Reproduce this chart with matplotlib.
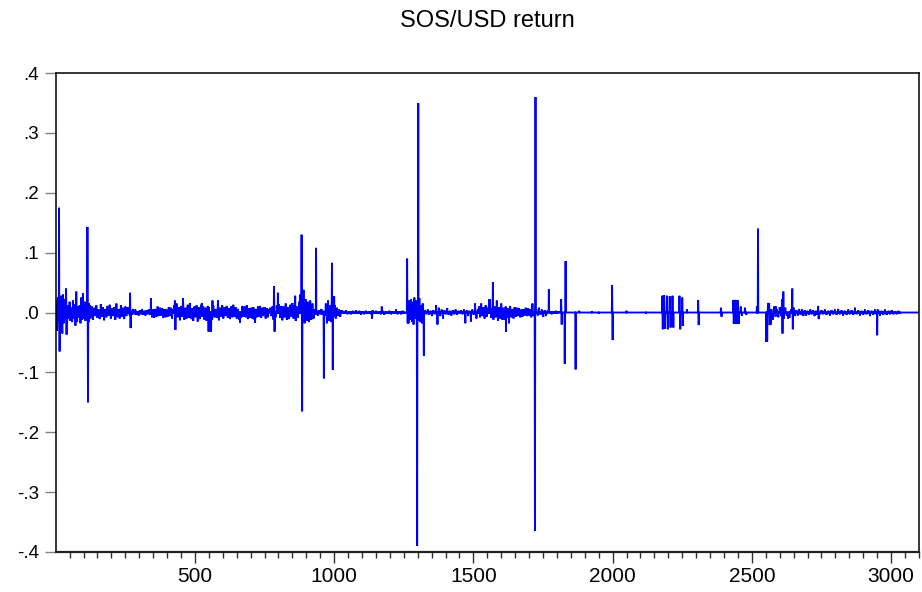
import numpy as np
import matplotlib
matplotlib.use("Agg")
import matplotlib.pyplot as plt

# ---------------- data ----------------
n_obs = 3100
title = "SOS/USD return"
x_ticks = [500, 1000, 1500, 2000, 2500, 3000]
y_ticks = [-0.4, -0.3, -0.2, -0.1, 0.0, 0.1, 0.2, 0.3, 0.4]
y_tick_labels = ['-.4', '-.3', '-.2', '-.1', '.0', '.1', '.2', '.3', '.4']

# background noise bands: (start index, step, values in thousandths)
noise_A = [20, -30, 25, -15, 28, -20, 10, -25, 30, -18, 22, -12, 15, -20, 12, -10, 18, -14, 8, -16,
           20, -10, 14, -22, 35, -15, 10, -8, 12, -18, 25, -12, 30, -10, 18, -14, 10, -12, 28, -16, 12, -10]
noise_B = [10, -12, 8, -6, 12, -9, 5, -11, 14, -7, 9, -13, 6, -8, 11, -5, 13, -10, 7, -6, 9, -12, 15, -8,
           6, -10, 12, -7, 8, -11, 10, -6, 9,
           4, -5, 3, -4, 6, -3, 5, -4, 2, -5, 4, -3, 6, -4, 3, -5, 4, -3, 5, -4,
           7, -8, 5, -9, 6, -7, 10, -6, 8, -5, 7, -9, 6, -8, 5, -7, 9, -6, 8, -10, 6,
           12, -10, 15, -8, 9, -13, 11, -7, 14, -12, 8, -10, 13, -9, 16, -11, 7, -14, 10, -8, 12, -15, 9,
           -11, 13, -7, 10, -12, 8, -14, 11,
           9, -10, 7, -12, 11, -8, 6, -9, 10, -13, 8, -7, 12, -10, 9, -6, 11, -9, 7, -11, 10, -8, 13, -7,
           9, -10, 6, -12, 8, -9, 11, -7, 10, -8, 12, -11, 7, -9, 8, -10, 9, -12, 6, -8, 10, -7, 11, -9,
           8, -6, 9, -10, 7, -8, 6]
noise_C = [8, -6, 10, -12, 9, -8, 12, -10, 14, -9, 11, -13, 10, -8, 15, -12, 9, -11, 13, -7,
           16, -10, 12, -14, 10, -9, 18, -15, 20, -12, 16, -18, 22, -14, 18, -16, 20, -12, 15, -10,
           5, -4, 3, -5, 4, -3, 6, -4, 3, -5, 15, -18, 20, -14, 12, -16, 10, -8, 12, -10, 8, -6, 5, -7, 4]
noise_D = [3, -2, 4, -3, 2, -3, 3, -2, 4, -2, 3, -4, 2, -3, 3, -2, 2, -3, 4, -2,
           3, -2, 2, -3, 3, -4, 2, -2, 3, -3, 2, -2, 4, -3, 2, -3, 3, -2]
noise_E = [15, -18, 20, -12, 22, -15, 18, -20, 25, -10, 20, -22, 18, -14, 24, -16, 12, -18, 15, -10]
noise_F = [4, -3, 5, -4, 3, -6, 4, -3, 12, -20, 8, -6, 5, -10, 4, -3, 7, -4, 3, -5,
           4, -3, 5, -4, 3, -2, 4, -3, 5, -18, 4, -6, 3, -15, 5, -4, 15, -10, 6]
noise_G = [10, -8, 15, -6, 9, -10, 12, -7, 8, -11, 22, -9, 7, -12, 10, -8, 20, -14, 9, -10,
           15, -12, 8, -12, 10, -9, 7, -18, 11, -8, 6, -10, 9, -7, 8, -6, 7, -8, 5, -7,
           6, -5, 8, -6, 7, -5, 6, -8, 15, -6]
noise_H = [6, -5, 8, -4, 5, -7, 4, -6, 3, -4, 2, -3, 2, -2, 3, -2, 2]
noise_L = [8, -10, 6, -12, 10, -7, 5, -8, 9, -6, 7, -10, 8, -5, 6, -9, 5, -7, 8, -6,
           4, -5, 6, -4, 5, -6, 4, -5, 3, -4, 5, -3, 4, -6, 3, -4, 5, -3]
noise_M = [4, -3, 5, -4, 3, -5, 4, -3, 5, -4, 6, -3, 4, -5, 3, -4, 5, -3, 4, -4,
           8, -3, 4, -5, 3, -4, 5, -3, 4, -6, 3, -4, 5, -3, 4, -5, 3, -4, 5, -4,
           3, -3, 4, -3, 2, -3, 3, -2]
noise_bands = [(2, 3, noise_A), (130, 4, noise_B), (770, 4, noise_C), (1030, 6, noise_D),
               (1264, 3, noise_E), (1326, 5, noise_F), (1520, 4, noise_G), (1726, 5, noise_H),
               (2560, 5, noise_L), (2750, 6, noise_M)]

# individual spikes
spike_idx = [12, 14, 20, 24, 37, 39, 98, 114, 116, 120,
             267, 269, 342, 428, 430, 457, 525, 549, 558, 563, 583, 662, 716,
             784, 786, 798, 860, 878, 883, 885, 890, 935, 963, 992, 995, 1000,
             1136, 1171, 1222,
             1262, 1264, 1298, 1302, 1322,
             1556, 1570, 1617,
             1721, 1723, 1771, 1815, 1817, 1828, 1831, 1867, 1880, 1925, 1950, 1998, 2000, 2050, 2120,
             2178, 2180, 2185, 2188, 2195, 2198, 2205, 2208, 2215, 2218, 2240, 2243, 2250, 2252, 2267,
             2307, 2309,
             2389, 2391, 2433, 2435, 2438, 2441, 2444, 2447, 2450, 2453, 2460, 2464, 2475, 2480,
             2518, 2522, 2552, 2555, 2558, 2562, 2564, 2568, 2586, 2608, 2610, 2613, 2630, 2645, 2647,
             2738, 2740, 2950, 2952]
spike_val = [0.175, -0.065, 0.028, -0.035, 0.040, -0.037, 0.032, 0.143, -0.150, 0.015,
             0.033, -0.026, 0.024, 0.020, -0.029, 0.024, 0.016, -0.032, -0.032, 0.020, 0.020, -0.017, -0.017,
             0.044, -0.032, 0.033, 0.028, 0.030, 0.130, -0.165, 0.038, 0.108, -0.110, 0.083, -0.096, 0.027,
             -0.010, 0.010, 0.005,
             0.090, -0.018, -0.390, 0.350, -0.072,
             0.022, 0.051, -0.032,
             -0.365, 0.360, 0.039, 0.022, -0.020, -0.086, 0.086, -0.095, 0.003, 0.002, -0.002, 0.046, -0.046, 0.003, -0.002,
             0.028, -0.028, 0.029, -0.027, 0.028, -0.028, 0.027, -0.025, 0.028, -0.025, 0.028, -0.028, 0.025, -0.022, 0.005,
             0.021, -0.021,
             0.008, -0.007, 0.021, -0.019, 0.021, -0.019, 0.021, -0.019, 0.020, -0.019, 0.010, -0.005, 0.008, -0.004,
             0.010, 0.140, -0.049, -0.048, 0.016, 0.016, -0.021, -0.020, 0.010, 0.022, -0.035, 0.035, -0.010, 0.040, -0.028,
             0.011, -0.011, -0.038, 0.005]

# ---------------- build series ----------------
obs = np.arange(1, n_obs + 1)
ret = np.zeros(n_obs)
for start, step, vals in noise_bands:
    pos = start - 1 + step * np.arange(len(vals))
    ret[pos] = np.array(vals) / 1000.0
for i, v in zip(spike_idx, spike_val):
    ret[i - 1] = v

# ---------------- plot ----------------
plt.rcParams['font.family'] = ['Liberation Sans', 'DejaVu Sans']
fig = plt.figure(figsize=(9.22, 5.92), dpi=100)
ax = fig.add_axes([0.0607, 0.0676, 0.936, 0.809])

ax.plot(obs, ret, color='#0000FF', linewidth=1.35, solid_joinstyle='miter')

ax.set_xlim(1, n_obs)
ax.set_ylim(-0.4, 0.4)
ax.set_yticks(y_ticks)
ax.set_yticklabels(y_tick_labels)
ax.set_xticks(x_ticks)
ax.set_xticklabels([str(t) for t in x_ticks])
ax.set_xticks(np.arange(50, n_obs + 1, 50), minor=True)

ax.tick_params(axis='y', which='major', direction='out', length=8, width=1.0,
               color='#808080', labelsize=13.5, pad=4, right=False)
ax.tick_params(axis='x', which='major', direction='out', length=8, width=1.0,
               color='#303030', labelsize=15, pad=3, top=False)
ax.tick_params(axis='x', which='minor', direction='out', length=4.5, width=1.0,
               color='#303030', top=False)

for side in ['top', 'right', 'left']:
    ax.spines[side].set_linewidth(1.1)
    ax.spines[side].set_color('black')
ax.spines['bottom'].set_linewidth(1.6)
ax.spines['bottom'].set_color('#202020')

fig.text(0.5285, 0.965, title, ha='center', va='center', fontsize=17)

fig.savefig('out.png', dpi=100)
